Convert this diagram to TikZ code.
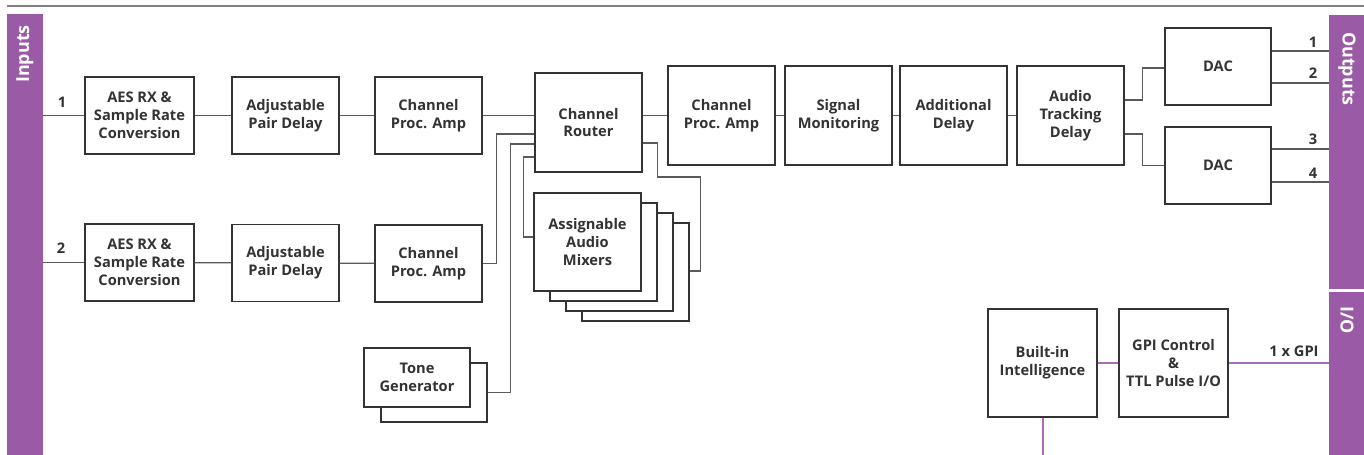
\documentclass[tikz,border=0pt]{standalone}
\usepackage{fontspec}
\setmainfont{Open Sans}
\usetikzlibrary{calc}
\definecolor{iopurple}{HTML}{9B5AA5}
\definecolor{wirepurple}{HTML}{A96DB6}
\definecolor{wiregray}{HTML}{5A5A5A}
\definecolor{boxgray}{HTML}{333333}

\begin{document}
\begin{tikzpicture}[x=1bp,y=-1bp]

\tikzstyle{block}=[rectangle, draw=boxgray, line width=1.2bp, fill=white, inner sep=0pt, align=center, text=boxgray, font=\fontsize{14.7}{18}\selectfont\bfseries, minimum width=107bp, minimum height=77bp]
\tikzstyle{tall}=[block, minimum height=99bp]
\tikzstyle{bar}=[rectangle, fill=iopurple, inner sep=0pt, anchor=north west]
\tikzstyle{bartext}=[text=white, font=\fontsize{18}{20}\selectfont\bfseries]
\tikzstyle{num}=[text=boxgray, font=\fontsize{14.7}{18}\selectfont\bfseries]
\tikzstyle{connect}=[draw=wiregray, line width=1.2bp]
\tikzstyle{ctrl}=[draw=wirepurple, line width=1.2bp]

\useasboundingbox[fill=white] (0,0) rectangle (1364,455);
\draw[draw=gray, line width=2bp] (7,6) -- (1364,6);

% side bars
\node[bar, minimum width=36bp, minimum height=441bp] (inbar) at (7,14) {};
\node[bar, minimum width=35bp, minimum height=274bp] (outbar) at (1329,15) {};
\node[bar, minimum width=35bp, minimum height=163bp] (iobar) at (1329,292) {};
\node[bartext, rotate=90] (intxt) at (25,54) {Inputs};
\node[bartext, rotate=-90] (outtxt) at (1347,69) {Outputs};
\node[bartext, rotate=-90] (iotxt) at (1347,320) {I/O};

% input chains
\node[block, minimum width=109bp] (aes1) at (139.5,115.5) {AES RX \&\\Sample Rate\\Conversion};
\node[block] (adj1) at (285.5,115.5) {Adjustable\\Pair Delay};
\node[block] (amp1) at (428.5,115.5) {Channel\\Proc. Amp};
\node[block, minimum width=109bp] (aes2) at (139.5,262.5) {AES RX \&\\Sample Rate\\Conversion};
\node[block] (adj2) at (285.5,263) {Adjustable\\Pair Delay};
\node[block] (amp2) at (428.5,263.5) {Channel\\Proc. Amp};
\node[num] (in1) at (62,102) {1};
\node[num] (in2) at (61,248) {2};

% router, mixers, tone
\node[tall] (router) at (588.5,122.5) {Channel\\Router};
\foreach \k in {3,2,1}
  \node[block, minimum height=98bp] (mix\k) at ($(587.5,242)+\k*(16,10)$) {};
\node[block, minimum height=98bp] (mix) at (587.5,242) {Assignable\\Audio\\Mixers};
\node[block, minimum width=106bp, minimum height=59bp] (toneb) at (434,392.5) {};
\node[block, minimum width=106bp, minimum height=59bp] (tone) at (417,377.5) {Tone\\Generator};

% output chain
\node[tall] (amp3) at (721.5,115.5) {Channel\\Proc. Amp};
\node[tall] (mon) at (838.5,115.5) {Signal\\Monitoring};
\node[tall] (adddel) at (953.5,115.5) {Additional\\Delay};
\node[tall] (track) at (1070.5,115.5) {Audio\\Tracking\\Delay};
\node[block, minimum width=106bp] (dac1) at (1218,66.5) {DAC};
\node[block, minimum width=106bp] (dac2) at (1218,165.5) {DAC};
\node[num] (out1) at (1313,42) {1};
\node[num] (out2) at (1313,73) {2};
\node[num] (out3) at (1313,139) {3};
\node[num] (out4) at (1313,173) {4};

% control
\node[block, minimum width=109bp, minimum height=108bp] (intel) at (1042.5,363) {Built-in\\Intelligence};
\node[block, minimum width=109bp, minimum height=108bp] (gpi) at (1173.5,363) {GPI Control\\\&\\TTL Pulse I/O};
\node[num] (gpitxt) at (1294,351) {1 x GPI};
\coordinate (intelend) at (1043,455);

% audio wires
\path (inbar.east |- aes1) [connect] edge (aes1);
\path (aes1) [connect] edge (adj1);
\path (adj1) [connect] edge (amp1);
\path (inbar.east |- aes2) [connect] edge (aes2);
\path (aes2) [connect] edge (adj2);
\path (adj2) [connect] edge (amp2);
\path (amp1) [connect] edge (amp1 -| router.west);
\draw[connect] (amp2.east) -- ++(14,0) |- ([shift={(0,11.5)}]router.west);
\draw[connect] ([shift={(0,21.5)}]router.west) -| ([shift={(-24,0)}]router.west |- toneb.east) -- (toneb.east);
\draw[connect] ([shift={(0,34.5)}]router.west) -- ++(-11,0) |- (mix.west |- 0,237);
\draw[connect] ([shift={(0,20.5)}]router.east) -- ++(15,0) -- ++(0,34) -- ++(43,0) |- (mix3.east |- 0,271);
\path (amp3.west -| router.east) [connect] edge (amp3);
\path (amp3) [connect] edge (mon);
\path (mon) [connect] edge (adddel);
\path (adddel) [connect] edge (track);
\draw[connect] ([shift={(0,-15.5)}]track.east) -- ++(18,0) |- ([shift={(0,1.5)}]dac1.west);
\draw[connect] ([shift={(0,18.5)}]track.east) -- ++(18,0) |- (dac2.west);
\draw[connect] (dac1.east |- 0,51) -- (outbar.west |- 0,51);
\draw[connect] (dac1.east |- 0,83) -- (outbar.west |- 0,83);
\draw[connect] (dac2.east |- 0,149) -- (outbar.west |- 0,149);
\draw[connect] (dac2.east |- 0,182) -- (outbar.west |- 0,182);

% control wires
\path (intel) [ctrl] edge (gpi);
\path (gpi) [ctrl] edge (gpi -| iobar.west);
\path (intel.south -| intelend) [ctrl] edge (intelend);

\end{tikzpicture}
\end{document}
